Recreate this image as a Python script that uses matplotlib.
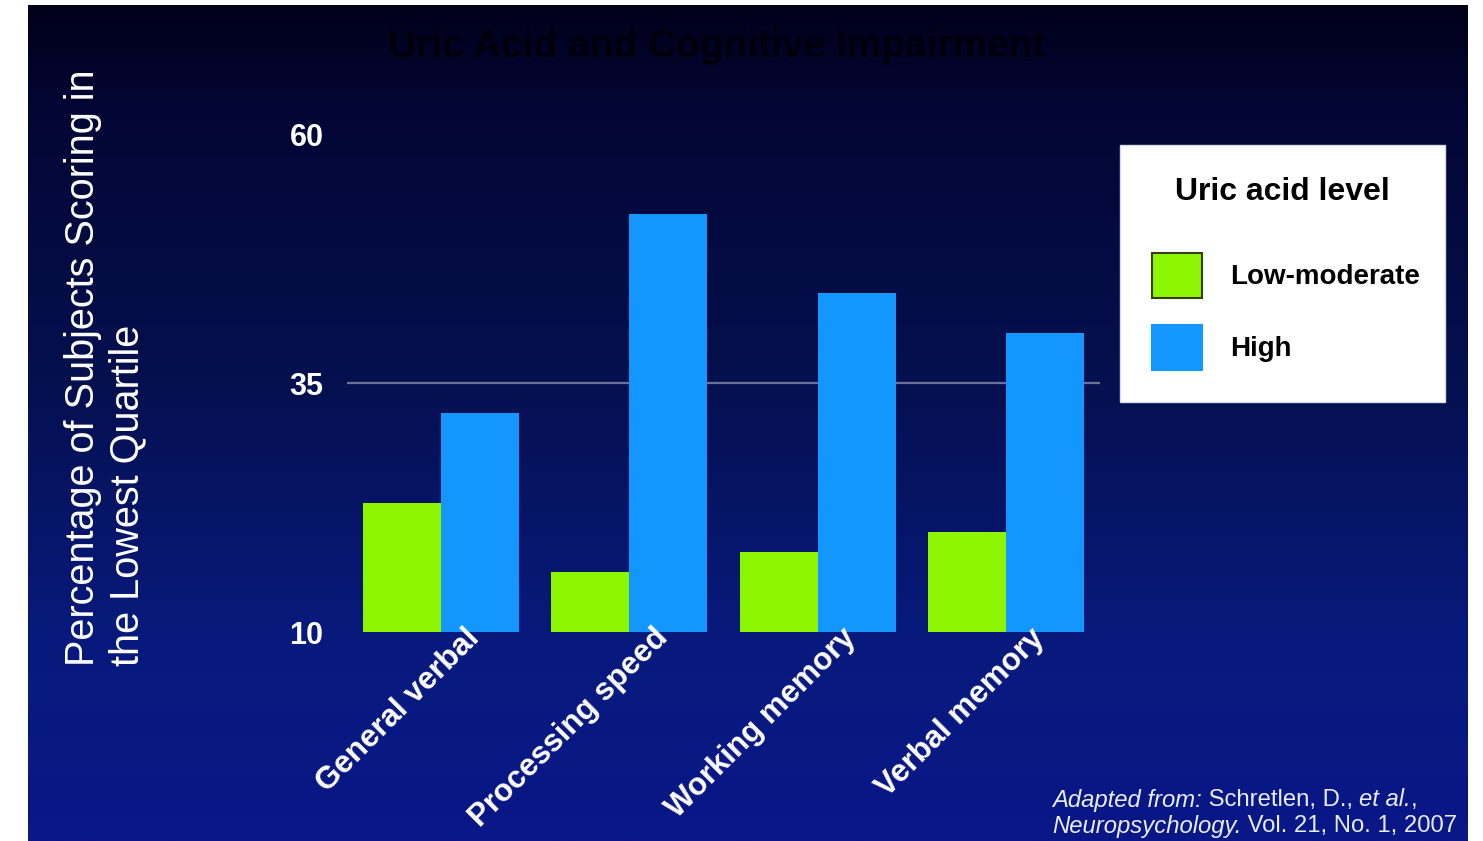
import numpy as np
import matplotlib
matplotlib.use("Agg")
import matplotlib.pyplot as plt
from matplotlib.colors import LinearSegmentedColormap
from matplotlib.patches import Patch
from matplotlib import transforms

plt.rcParams['font.family'] = ['Liberation Sans', 'DejaVu Sans']

# ---- data ----
categories = ["General verbal", "Processing speed", "Working memory", "Verbal memory"]
low_moderate = [23, 16, 18, 20]
high = [32, 52, 44, 40]
series_names = ["Low-moderate", "High"]
yticks = [10, 35, 60]
title = "Uric Acid and Cognitive Impairment"
ylabel = "Percentage of Subjects Scoring in\nthe Lowest Quartile"
legend_title = "Uric acid level"
source_line1 = [("Adapted from:", "italic"), (" Schretlen, D., ", "normal"),
                ("et al.", "italic"), (",", "normal")]
source_line2 = [("Neuropsychology.", "italic"), (" Vol. 21, No. 1, 2007", "normal")]

GREEN = "#8cf500"
BLUE = "#1496ff"

W, H = 1483, 841
fig = plt.figure(figsize=(W / 100, H / 100), dpi=100, facecolor="white")

# background gradient (slide)
bg = fig.add_axes([28 / W, 0, (1468 - 28) / W, (H - 5) / H], zorder=0)
bg_cmap = LinearSegmentedColormap.from_list(
    "bg", [(0.0, "#01011a"), (0.12, "#030634"), (0.45, "#05104f"),
           (0.76, "#081a7d"), (1.0, "#0a1788")])
grad = np.linspace(0, 1, 512).reshape(-1, 1)
bg.imshow(grad, aspect="auto", cmap=bg_cmap, extent=[0, 1, 1, 0])
bg.set_axis_off()

# main axes
ax = fig.add_axes([347 / W, 1 - 632 / H, 753 / W, (632 - 134) / H], zorder=1)
ax.patch.set_alpha(0)
x = np.arange(len(categories))
bw = 0.415
ax.bar(x - bw / 2, low_moderate, bw, color=GREEN, zorder=3)
ax.bar(x + bw / 2, high, bw, color=BLUE, zorder=3)
ax.set_xlim(-0.5, len(categories) - 0.5)
ax.set_ylim(yticks[0], yticks[-1])
ax.set_yticks(yticks)
ax.set_yticklabels([str(t) for t in yticks], color="white", fontsize=22,
                   fontweight="bold")
ax.tick_params(axis="y", length=0, pad=17)
ax.set_xticks([])
for s in ax.spines.values():
    s.set_visible(False)
ax.yaxis.grid(True, color="#6c7199", linewidth=1.6, zorder=1)
for t, gl in zip(ax.get_yticks(), ax.yaxis.get_gridlines()):
    gl.set_visible(t == yticks[1])

# category labels
trans = transforms.offset_copy(
    transforms.blended_transform_factory(ax.transData, ax.transAxes),
    fig=fig, x=0, y=9, units="dots")
for i, c in enumerate(categories):
    ax.text(i + 0.125, 0, c, transform=trans, rotation=45, ha="right", va="top",
            rotation_mode="anchor", color="white", fontsize=22.5,
            fontweight="bold")

# y label
fig.text(105 / W, 1 - 368 / H, ylabel, rotation=90, ha="center", va="center",
         multialignment="left", color="white", fontsize=28.5, linespacing=1.2)

# title
fig.text(717 / W, 1 - 47 / H, title, ha="center", va="center",
         color="#00000c", fontsize=28, fontweight="bold")

# legend
handles = [Patch(facecolor=GREEN, edgecolor="#334014", linewidth=1.5),
           Patch(facecolor=BLUE, edgecolor=BLUE, linewidth=1.5)]
leg = fig.legend(handles, series_names, title=legend_title,
                 loc="upper left",
                 bbox_to_anchor=(1120 / W, 1 - 145 / H, 325 / W, 0.0),
                 mode="expand", frameon=True, fancybox=False,
                 facecolor="white", edgecolor="#d8dce8", framealpha=1,
                 prop={"size": 20, "weight": "bold"},
                 title_fontproperties={"size": 23, "weight": "bold"},
                 handlelength=1.8, handleheight=2.1, handletextpad=1.0,
                 labelspacing=1.0, borderpad=1.15, borderaxespad=0)
leg._legend_box.align = "center"
leg._legend_box.sep = 33
leg.set_zorder(5)

# source note (mixed italic / upright pieces)
fig.canvas.draw()
renderer = fig.canvas.get_renderer()


def draw_pieces(pieces, x0, y0):
    xpix = x0
    for txt, style in pieces:
        t = fig.text(xpix / W, 1 - y0 / H, txt, ha="left", va="center",
                     color="#e8ecf8", fontsize=17.2, style=style)
        bb = t.get_window_extent(renderer=renderer)
        xpix += bb.width


draw_pieces(source_line1, 1052, 800)
draw_pieces(source_line2, 1052, 826)

fig.savefig("out.png", dpi=100, facecolor=fig.get_facecolor())
